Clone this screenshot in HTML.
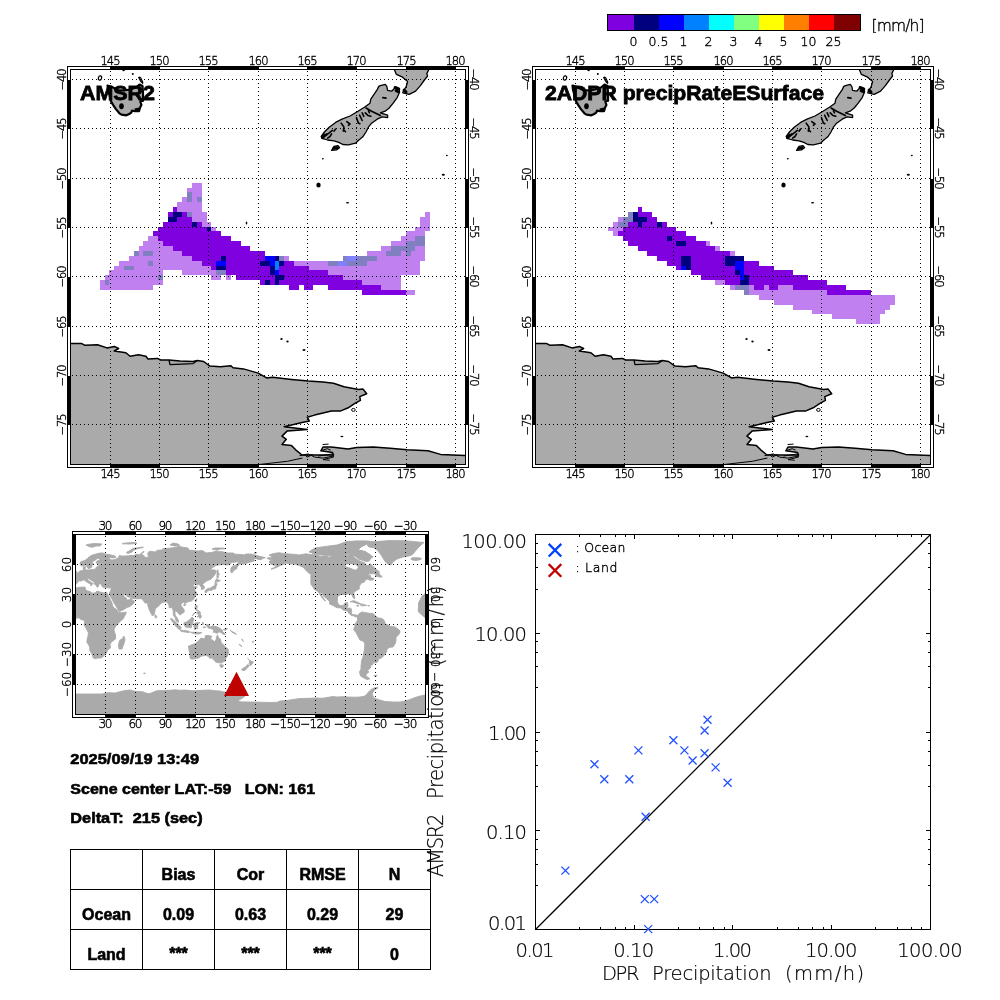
<!DOCTYPE html><html><head><meta charset="utf-8"><title>AMSR2 vs DPR precipitation</title><style>html,body{margin:0;padding:0;background:#fff}svg{display:block}</style></head><body>
<svg width="1000" height="1000" viewBox="0 0 1000 1000">
<rect width="1000" height="1000" fill="#fff"/><g opacity="0.999">
<g shape-rendering="crispEdges">
<rect x="608" y="15" width="26" height="15" fill="#8000e0"/>
<rect x="634" y="15" width="25" height="15" fill="#000080"/>
<rect x="659" y="15" width="25" height="15" fill="#0000ff"/>
<rect x="684" y="15" width="25" height="15" fill="#0080ff"/>
<rect x="709" y="15" width="25" height="15" fill="#00ffff"/>
<rect x="734" y="15" width="25" height="15" fill="#80ff80"/>
<rect x="759" y="15" width="25" height="15" fill="#ffff00"/>
<rect x="784" y="15" width="25" height="15" fill="#ff8000"/>
<rect x="809" y="15" width="25" height="15" fill="#ff0000"/>
<rect x="834" y="15" width="26" height="15" fill="#800000"/>
<rect x="607.5" y="14.5" width="253" height="16" fill="none" stroke="#000"/></g>
<g style="font-family:'DejaVu Sans','Liberation Sans',sans-serif;font-weight:200;stroke:#000;stroke-width:.38px" font-size="12.5" text-anchor="middle">
<text x="633.5" y="45.5">0</text>
<text x="658.5" y="45.5">0.5</text>
<text x="683.5" y="45.5">1</text>
<text x="708.5" y="45.5">2</text>
<text x="733.5" y="45.5">3</text>
<text x="758.5" y="45.5">4</text>
<text x="783.5" y="45.5">5</text>
<text x="808.5" y="45.5">10</text>
<text x="833.5" y="45.5">25</text>
</g>
<text x="871.5" y="30.5" style="font-family:'DejaVu Sans','Liberation Sans',sans-serif;font-weight:200;stroke:#000;stroke-width:.38px" font-size="15.5" textLength="53" lengthAdjust="spacing">[mm/h]</text>
<g transform="translate(0 0)">
<clipPath id="c0"><rect x="71" y="70" width="394" height="394"/></clipPath>
<g clip-path="url(#c0)">
<g shape-rendering="crispEdges"><path fill="#c080f0" d="M192 183h10v5h-10zM187 188h15v4h-15zM192 192h10v5h-10zM182 197h5v5h-5zM192 197h5v5h-5zM177 202h25v5h-25zM177 207h25v5h-25zM192 212h15v5h-15zM425 212h5v5h-5zM192 217h15v5h-15zM420 217h10v5h-10zM202 222h9v5h-9zM420 222h10v5h-10zM211 227h5v4h-5zM415 227h15v4h-15zM406 231h19v5h-19zM148 236h10v5h-10zM401 236h14v5h-14zM143 241h20v5h-20zM391 241h15v5h-15zM139 246h34v5h-34zM381 246h10v5h-10zM415 246h10v5h-10zM139 251h4v5h-4zM153 251h29v5h-29zM367 251h19v5h-19zM401 251h5v5h-5zM411 251h14v5h-14zM129 256h63v5h-63zM284 256h5v5h-5zM377 256h48v5h-48zM119 261h29v5h-29zM153 261h49v5h-49zM294 261h34v5h-34zM367 261h53v5h-53zM114 266h10v4h-10zM134 266h77v4h-77zM309 266h111v4h-111zM109 270h54v5h-54zM182 270h34v5h-34zM328 270h92v5h-92zM105 275h53v5h-53zM211 275h10v5h-10zM226 275h5v5h-5zM343 275h58v5h-58zM100 280h5v5h-5zM109 280h54v5h-54zM362 280h39v5h-39zM100 285h53v5h-53zM381 285h20v5h-20zM406 290h9v5h-9z"/><path fill="#8000e0" d="M173 207h4v5h-4zM168 212h5v5h-5zM182 212h5v5h-5zM177 217h15v5h-15zM163 222h29v5h-29zM197 222h5v5h-5zM158 227h49v4h-49zM153 231h68v5h-68zM158 236h73v5h-73zM163 241h78v5h-78zM173 246h77v5h-77zM182 251h83v5h-83zM192 256h29v5h-29zM226 256h39v5h-39zM202 261h14v5h-14zM226 261h34v5h-34zM284 261h10v5h-10zM211 266h5v4h-5zM226 266h44v4h-44zM279 266h30v4h-30zM226 270h44v5h-44zM279 270h49v5h-49zM236 275h39v5h-39zM284 275h59v5h-59zM260 280h5v5h-5zM270 280h5v5h-5zM279 280h83v5h-83zM289 285h10v5h-10zM304 285h9v5h-9zM328 285h53v5h-53zM362 290h44v5h-44z"/><path fill="#000080" d="M173 212h9v5h-9zM168 217h9v5h-9zM192 222h5v5h-5zM207 227h4v4h-4zM221 256h5v5h-5zM275 256h4v5h-4zM260 261h10v5h-10zM279 261h5v5h-5zM216 266h10v4h-10zM270 266h5v4h-5zM270 270h5v5h-5zM275 275h9v5h-9zM265 280h5v5h-5zM275 280h4v5h-4z"/><path fill="#8080c0" d="M187 192h5v5h-5zM187 197h5v5h-5zM197 197h5v5h-5zM187 212h5v5h-5zM415 236h10v5h-10zM406 241h19v5h-19zM391 246h24v5h-24zM134 251h5v5h-5zM143 251h10v5h-10zM386 251h15v5h-15zM406 251h5v5h-5zM279 256h5v5h-5zM343 256h4v5h-4zM357 256h20v5h-20zM148 261h5v5h-5zM328 261h10v5h-10zM347 261h20v5h-20zM124 266h10v4h-10zM216 270h10v5h-10zM158 275h5v5h-5zM105 280h4v5h-4z"/><path fill="#0000ff" d="M265 256h10v5h-10zM216 261h10v5h-10zM270 261h5v5h-5zM275 270h4v5h-4z"/><path fill="#0080ff" d="M275 261h4v5h-4zM275 266h4v4h-4z"/><path fill="#8080ff" d="M347 256h10v5h-10zM338 261h9v5h-9z"/></g>
<path d="M70.5 343.6L81.8 343.6L85.0 345.3L97.5 344.7L107.0 347.9L114.3 346.4L118.6 348.5L114.3 351.0L125.9 352.7L130.1 356.3L138.5 354.8L145.9 356.3L148.0 359.0L157.4 358.4L160.6 360.0L169.0 360.0L180.0 361.0L193.0 361.6L197.3 360.5L203.6 361.5L210.0 366.1L220.4 366.8L230.9 365.7L233.0 367.8L243.5 368.9L258.2 373.1L266.6 377.9L272.6 377.3L291.5 379.4L308.3 381.1L323.0 381.9L333.5 383.2L344.0 386.8L358.7 389.5L362.9 388.9L366.7 393.7L359.8 396.6L360.4 400.4L354.5 403.6L348.2 407.8L340.9 410.9L331.4 410.9L323.0 413.0L314.6 415.1L307.3 417.2L309.4 421.0L302.0 422.5L293.6 424.6L284.2 426.7L307.3 429.4L287.3 430.9L282.0 436.1L286.3 439.3L282.0 444.5L291.5 445.6L295.7 449.8L302.0 455.0L316.7 455.0L333.5 455.0L332.5 452.5L320.9 450.8L323.0 447.0L331.4 447.0L348.0 449.1L356.6 447.6L373.4 447.0L390.2 448.3L407.0 449.7L428.0 450.8L440.6 454.4L465.5 455.4L465.5 465.0L70.5 465.0Z" fill="#aaaaaa" stroke="none"/>
<path d="M70.5 343.6L81.8 343.6L85.0 345.3L97.5 344.7L107.0 347.9L114.3 346.4L118.6 348.5L114.3 351.0L125.9 352.7L130.1 356.3L138.5 354.8L145.9 356.3L148.0 359.0L157.4 358.4L160.6 360.0L169.0 360.0L180.0 361.0L193.0 361.6L197.3 360.5L203.6 361.5L210.0 366.1L220.4 366.8L230.9 365.7L233.0 367.8L243.5 368.9L258.2 373.1L266.6 377.9L272.6 377.3L291.5 379.4L308.3 381.1L323.0 381.9L333.5 383.2L344.0 386.8L358.7 389.5L362.9 388.9L366.7 393.7L359.8 396.6L360.4 400.4L354.5 403.6L348.2 407.8L340.9 410.9L331.4 410.9L323.0 413.0L314.6 415.1L307.3 417.2L309.4 421.0L302.0 422.5L293.6 424.6L284.2 426.7L307.3 429.4L287.3 430.9L282.0 436.1L286.3 439.3L282.0 444.5L291.5 445.6L295.7 449.8L302.0 455.0L316.7 455.0L333.5 455.0L332.5 452.5L320.9 450.8L323.0 447.0L331.4 447.0L348.0 449.1L356.6 447.6L373.4 447.0L390.2 448.3L407.0 449.7L428.0 450.8L440.6 454.4L465.5 455.4" fill="none" stroke="#000" stroke-width="1.5" stroke-linejoin="round"/>
<path d="M107.5 85.5L112.0 87.0L118.0 90.0L124.0 90.5L130.0 89.5L136.0 87.5L139.5 84.5L142.5 86.0L143.0 93.0L143.1 100.7L140.3 101.4L141.4 104.9L140.3 107.0L139.0 111.2L134.8 111.2L132.0 110.5L131.3 112.6L129.2 114.0L126.4 115.3L121.5 114.7L119.4 113.3L115.9 109.1L113.1 104.9L111.0 101.4L109.5 95.0L108.0 90.0Z" fill="#aaaaaa" stroke="#000" stroke-width="2.2" stroke-linejoin="round"/>
<path d="M380.4 85.6L385.2 84.3L386.8 86.4L387.6 90.4L391.6 91.2L394.8 88.0L398.8 88.8L399.6 92.0L397.2 97.6L393.2 103.2L389.2 108.0L385.2 111.2L380.4 112.8L382.8 113.6L387.6 115.2L387.6 117.6L382.0 116.8L377.2 119.2L371.6 123.2L368.4 127.2L366.0 132.0L362.8 136.8L358.0 140.8L355.6 143.2L348.4 144.8L342.8 144.5L338.8 142.4L334.0 140.8L327.6 140.0L322.0 138.4L321.2 136.5L324.4 132.0L329.2 127.2L335.6 122.4L342.0 119.2L350.0 116.0L358.0 111.2L364.4 107.2L370.0 103.2L370.8 99.2L374.0 94.4L377.2 89.6L378.8 86.4Z" fill="#aaaaaa" stroke="#000" stroke-width="1.3" stroke-linejoin="round"/>
<path d="M394.0 68.8L396.4 74.4L402.0 76.8L407.6 81.6L406.0 87.2L403.6 90.4L402.8 92.8L409.2 94.4L415.6 91.2L420.4 85.6L424.4 80.0L427.6 76.0L426.8 73.6L429.2 68.8Z" fill="#aaaaaa" stroke="#000" stroke-width="1.3" stroke-linejoin="round"/>
<path d="M331.6 150.4L334.0 146.4L338.0 145.6L339.6 147.7L336.4 149.9Z" fill="#aaaaaa" stroke="#000" stroke-width="1.3" stroke-linejoin="round"/>
<ellipse cx="132.8" cy="74" rx="1" ry="1" fill="#000"/>
<ellipse cx="123.6" cy="70.4" rx="1.2" ry="0.8" fill="#000"/>
<ellipse cx="322.8" cy="158.7" rx="1" ry="0.8" fill="#000"/>
<ellipse cx="318.5" cy="185" rx="2.2" ry="2.5" fill="#000"/>
<ellipse cx="347.6" cy="202.7" rx="1.6" ry="0.8" fill="#000"/>
<ellipse cx="446.8" cy="155.5" rx="1" ry="0.8" fill="#000"/>
<ellipse cx="443.3" cy="174.7" rx="1.6" ry="1" fill="#000"/>
<ellipse cx="246.5" cy="223" rx="0.8" ry="1.5" fill="#000"/>
<ellipse cx="281.5" cy="339" rx="1.2" ry="1" fill="#000"/>
<ellipse cx="287.5" cy="341.5" rx="1.2" ry="1" fill="#000"/>
<ellipse cx="304" cy="350" rx="1.5" ry="1" fill="#000"/>
<ellipse cx="341.9" cy="436.5" rx="1.5" ry="0.8" fill="#000"/>
<path d="M326.0 135.5L329.2 132.8L332.4 130.4M327.6 138.1L330.0 136.5L331.6 133.9M324.4 136.5L326.8 133.9M334.0 131.2L335.6 129.1M341.2 123.2L343.9 126.9L343.3 131.2M346.8 121.6L350.0 124.0L348.4 125.3M344.4 130.4L345.5 131.7M356.4 117.6L358.0 122.1M359.6 115.2L362.2 120.5M362.2 112.8L363.8 116.3M358.0 122.7L359.9 123.7M366.0 108.0L371.6 111.2L380.4 115.5M365.2 112.8L367.9 115.4L370.8 116.3M368.4 110.9L369.5 112.8M382.8 97.6L386.0 98.1" fill="none" stroke="#000" stroke-width="1.6" stroke-linecap="round" stroke-linejoin="round"/><path d="M395.1 87.5L398.8 88.8L398.3 91.7L396.1 90.7M404.1 90.1L406.0 92.0M322.5 137.6L324.7 135.2M334.0 148.3L337.2 147.7" fill="none" stroke="#000" stroke-width="3" stroke-linecap="round" stroke-linejoin="round"/><ellipse cx="353.4" cy="409.9" rx="1.8" ry="1.5" fill="#fff" stroke="#000" stroke-width="1"/><ellipse cx="121.5" cy="106.3" rx="2.3" ry="3" fill="#000"/><path d="M134.5 108.5L139 107.5L139.5 111L135 111.5Z" fill="#000"/><ellipse cx="100" cy="78" rx="1.6" ry="2.2" fill="#fff" stroke="#000" stroke-width="1.2" transform="rotate(15 100 78)"/><path d="M138.8 77.5Q140.5 76.5 141.5 79.5Q143 82 142.6 83.2Q141 82 140 80Z" fill="#fff" stroke="#000" stroke-width="1.3"/><path d="M299.9 455.6L308.3 453.9L314.6 457.1L323.0 458.1L333.5 456.0M318.8 456.0L332.4 453.9L333.5 457.1L323.0 459.6L329.3 460.2M305.1 455.0L307.2 457.1L312.5 454.6M320.9 450.8L327.2 448.7L330.3 450.0M323.0 444.5L328.2 444.1" fill="none" stroke="#000" stroke-width="1" stroke-linecap="round" stroke-linejoin="round"/><path d="M260.0 464.4L287.3 461.3L302.0 458.1" fill="none" stroke="#000" stroke-width="1" stroke-linecap="round" stroke-linejoin="round"/><path d="M169 360L170 364.7L193.1 363.6L197.3 360.5" fill="none" stroke="#000" stroke-width="1.3" stroke-linejoin="round"/>
</g>
<g stroke="#000" stroke-width="1" stroke-dasharray="1 3" shape-rendering="crispEdges" fill="none">
<path d="M110.5 71V464"/>
<path d="M159.5 71V464"/>
<path d="M208.5 71V464"/>
<path d="M258.5 71V464"/>
<path d="M307.5 71V464"/>
<path d="M356.5 71V464"/>
<path d="M406.5 71V464"/>
<path d="M455.5 71V464"/>
<path d="M72 79.5H465"/>
<path d="M72 128.5H465"/>
<path d="M72 178.5H465"/>
<path d="M72 227.5H465"/>
<path d="M72 276.5H465"/>
<path d="M72 326.5H465"/>
<path d="M72 375.5H465"/>
<path d="M72 424.5H465"/>
</g>
<g shape-rendering="crispEdges">
<rect x="67.5" y="66.5" width="401" height="401" fill="none" stroke="#000"/>
<rect x="70.5" y="69.5" width="395" height="395" fill="none" stroke="#000"/>
<rect x="110" y="66" width="50" height="4"/><rect x="110" y="464" width="50" height="4"/>
<rect x="208" y="66" width="51" height="4"/><rect x="208" y="464" width="51" height="4"/>
<rect x="307" y="66" width="50" height="4"/><rect x="307" y="464" width="50" height="4"/>
<rect x="406" y="66" width="50" height="4"/><rect x="406" y="464" width="50" height="4"/>
<rect x="67" y="80" width="4" height="49"/><rect x="465" y="80" width="4" height="49"/>
<rect x="67" y="179" width="4" height="49"/><rect x="465" y="179" width="4" height="49"/>
<rect x="67" y="277" width="4" height="50"/><rect x="465" y="277" width="4" height="50"/>
<rect x="67" y="376" width="4" height="49"/><rect x="465" y="376" width="4" height="49"/>
</g>
<g style="font-family:'DejaVu Sans','Liberation Sans',sans-serif;font-weight:200;stroke:#000;stroke-width:.38px" font-size="11.5" text-anchor="middle" fill="#000">
<text x="110.5" y="64.5" textLength="20" lengthAdjust="spacing">145</text><text x="110.5" y="478" textLength="20" lengthAdjust="spacing">145</text>
<text x="159.5" y="64.5" textLength="20" lengthAdjust="spacing">150</text><text x="159.5" y="478" textLength="20" lengthAdjust="spacing">150</text>
<text x="208.5" y="64.5" textLength="20" lengthAdjust="spacing">155</text><text x="208.5" y="478" textLength="20" lengthAdjust="spacing">155</text>
<text x="258.5" y="64.5" textLength="20" lengthAdjust="spacing">160</text><text x="258.5" y="478" textLength="20" lengthAdjust="spacing">160</text>
<text x="307.5" y="64.5" textLength="20" lengthAdjust="spacing">165</text><text x="307.5" y="478" textLength="20" lengthAdjust="spacing">165</text>
<text x="356.5" y="64.5" textLength="20" lengthAdjust="spacing">170</text><text x="356.5" y="478" textLength="20" lengthAdjust="spacing">170</text>
<text x="406.5" y="64.5" textLength="20" lengthAdjust="spacing">175</text><text x="406.5" y="478" textLength="20" lengthAdjust="spacing">175</text>
<text x="455.5" y="64.5" textLength="20" lengthAdjust="spacing">180</text><text x="455.5" y="478" textLength="20" lengthAdjust="spacing">180</text>
<text transform="translate(65.5 79.5) rotate(-90)" textLength="22" lengthAdjust="spacing">−40</text>
<text transform="translate(469.8 79.5) rotate(90)" textLength="22" lengthAdjust="spacing">−40</text>
<text transform="translate(65.5 128.5) rotate(-90)" textLength="22" lengthAdjust="spacing">−45</text>
<text transform="translate(469.8 128.5) rotate(90)" textLength="22" lengthAdjust="spacing">−45</text>
<text transform="translate(65.5 178.5) rotate(-90)" textLength="22" lengthAdjust="spacing">−50</text>
<text transform="translate(469.8 178.5) rotate(90)" textLength="22" lengthAdjust="spacing">−50</text>
<text transform="translate(65.5 227.5) rotate(-90)" textLength="22" lengthAdjust="spacing">−55</text>
<text transform="translate(469.8 227.5) rotate(90)" textLength="22" lengthAdjust="spacing">−55</text>
<text transform="translate(65.5 276.5) rotate(-90)" textLength="22" lengthAdjust="spacing">−60</text>
<text transform="translate(469.8 276.5) rotate(90)" textLength="22" lengthAdjust="spacing">−60</text>
<text transform="translate(65.5 326.5) rotate(-90)" textLength="22" lengthAdjust="spacing">−65</text>
<text transform="translate(469.8 326.5) rotate(90)" textLength="22" lengthAdjust="spacing">−65</text>
<text transform="translate(65.5 375.5) rotate(-90)" textLength="22" lengthAdjust="spacing">−70</text>
<text transform="translate(469.8 375.5) rotate(90)" textLength="22" lengthAdjust="spacing">−70</text>
<text transform="translate(65.5 424.5) rotate(-90)" textLength="22" lengthAdjust="spacing">−75</text>
<text transform="translate(469.8 424.5) rotate(90)" textLength="22" lengthAdjust="spacing">−75</text>
</g>
<text x="80" y="100" style="font-family:'Liberation Sans',sans-serif;font-weight:bold;stroke:#000;stroke-width:.8px" font-size="20.5" textLength="75" lengthAdjust="spacingAndGlyphs">AMSR2</text>
</g>
<g transform="translate(465 0)">
<clipPath id="c465"><rect x="71" y="70" width="394" height="394"/></clipPath>
<g clip-path="url(#c465)">
<g shape-rendering="crispEdges"><path fill="#c080f0" d="M153 217h5v5h-5zM148 222h5v5h-5zM143 227h15v4h-15zM148 231h5v5h-5zM241 241h4v5h-4zM250 246h5v5h-5zM265 251h5v5h-5zM250 280h10v5h-10zM265 285h5v5h-5zM284 285h5v5h-5zM299 285h5v5h-5zM313 285h15v5h-15zM284 290h78v5h-78zM294 295h136v5h-136zM309 300h121v5h-121zM328 305h97v5h-97zM347 310h73v4h-73zM367 314h48v5h-48zM391 319h24v5h-24z"/><path fill="#8000e0" d="M173 207h4v5h-4zM173 212h14v5h-14zM182 217h10v5h-10zM163 222h10v5h-10zM177 222h15v5h-15zM197 222h5v5h-5zM158 227h53v4h-53zM153 231h68v5h-68zM158 236h44v5h-44zM207 236h24v5h-24zM163 241h48v5h-48zM221 241h20v5h-20zM173 246h77v5h-77zM182 251h83v5h-83zM192 256h24v5h-24zM226 256h34v5h-34zM202 261h14v5h-14zM226 261h34v5h-34zM279 261h15v5h-15zM211 266h5v4h-5zM226 266h44v4h-44zM279 266h30v4h-30zM226 270h44v5h-44zM279 270h49v5h-49zM236 275h39v5h-39zM284 275h59v5h-59zM260 280h15v5h-15zM284 280h78v5h-78zM289 285h10v5h-10zM304 285h9v5h-9zM328 285h53v5h-53zM362 290h44v5h-44z"/><path fill="#000080" d="M168 212h5v5h-5zM168 217h14v5h-14zM173 222h4v5h-4zM192 222h5v5h-5zM202 236h5v5h-5zM211 241h10v5h-10zM216 256h10v5h-10zM260 256h19v5h-19zM216 261h10v5h-10zM260 261h10v5h-10zM221 266h5v4h-5zM270 270h5v5h-5zM279 275h5v5h-5zM275 280h9v5h-9z"/><path fill="#8080c0" d="M163 212h5v5h-5zM158 217h10v5h-10zM153 222h10v5h-10zM270 285h14v5h-14zM279 290h5v5h-5z"/><path fill="#0000ff" d="M270 261h9v5h-9zM216 266h5v4h-5zM270 266h9v4h-9zM275 270h4v5h-4zM275 275h4v5h-4z"/></g>
<path d="M70.5 343.6L81.8 343.6L85.0 345.3L97.5 344.7L107.0 347.9L114.3 346.4L118.6 348.5L114.3 351.0L125.9 352.7L130.1 356.3L138.5 354.8L145.9 356.3L148.0 359.0L157.4 358.4L160.6 360.0L169.0 360.0L180.0 361.0L193.0 361.6L197.3 360.5L203.6 361.5L210.0 366.1L220.4 366.8L230.9 365.7L233.0 367.8L243.5 368.9L258.2 373.1L266.6 377.9L272.6 377.3L291.5 379.4L308.3 381.1L323.0 381.9L333.5 383.2L344.0 386.8L358.7 389.5L362.9 388.9L366.7 393.7L359.8 396.6L360.4 400.4L354.5 403.6L348.2 407.8L340.9 410.9L331.4 410.9L323.0 413.0L314.6 415.1L307.3 417.2L309.4 421.0L302.0 422.5L293.6 424.6L284.2 426.7L307.3 429.4L287.3 430.9L282.0 436.1L286.3 439.3L282.0 444.5L291.5 445.6L295.7 449.8L302.0 455.0L316.7 455.0L333.5 455.0L332.5 452.5L320.9 450.8L323.0 447.0L331.4 447.0L348.0 449.1L356.6 447.6L373.4 447.0L390.2 448.3L407.0 449.7L428.0 450.8L440.6 454.4L465.5 455.4L465.5 465.0L70.5 465.0Z" fill="#aaaaaa" stroke="none"/>
<path d="M70.5 343.6L81.8 343.6L85.0 345.3L97.5 344.7L107.0 347.9L114.3 346.4L118.6 348.5L114.3 351.0L125.9 352.7L130.1 356.3L138.5 354.8L145.9 356.3L148.0 359.0L157.4 358.4L160.6 360.0L169.0 360.0L180.0 361.0L193.0 361.6L197.3 360.5L203.6 361.5L210.0 366.1L220.4 366.8L230.9 365.7L233.0 367.8L243.5 368.9L258.2 373.1L266.6 377.9L272.6 377.3L291.5 379.4L308.3 381.1L323.0 381.9L333.5 383.2L344.0 386.8L358.7 389.5L362.9 388.9L366.7 393.7L359.8 396.6L360.4 400.4L354.5 403.6L348.2 407.8L340.9 410.9L331.4 410.9L323.0 413.0L314.6 415.1L307.3 417.2L309.4 421.0L302.0 422.5L293.6 424.6L284.2 426.7L307.3 429.4L287.3 430.9L282.0 436.1L286.3 439.3L282.0 444.5L291.5 445.6L295.7 449.8L302.0 455.0L316.7 455.0L333.5 455.0L332.5 452.5L320.9 450.8L323.0 447.0L331.4 447.0L348.0 449.1L356.6 447.6L373.4 447.0L390.2 448.3L407.0 449.7L428.0 450.8L440.6 454.4L465.5 455.4" fill="none" stroke="#000" stroke-width="1.5" stroke-linejoin="round"/>
<path d="M107.5 85.5L112.0 87.0L118.0 90.0L124.0 90.5L130.0 89.5L136.0 87.5L139.5 84.5L142.5 86.0L143.0 93.0L143.1 100.7L140.3 101.4L141.4 104.9L140.3 107.0L139.0 111.2L134.8 111.2L132.0 110.5L131.3 112.6L129.2 114.0L126.4 115.3L121.5 114.7L119.4 113.3L115.9 109.1L113.1 104.9L111.0 101.4L109.5 95.0L108.0 90.0Z" fill="#aaaaaa" stroke="#000" stroke-width="2.2" stroke-linejoin="round"/>
<path d="M380.4 85.6L385.2 84.3L386.8 86.4L387.6 90.4L391.6 91.2L394.8 88.0L398.8 88.8L399.6 92.0L397.2 97.6L393.2 103.2L389.2 108.0L385.2 111.2L380.4 112.8L382.8 113.6L387.6 115.2L387.6 117.6L382.0 116.8L377.2 119.2L371.6 123.2L368.4 127.2L366.0 132.0L362.8 136.8L358.0 140.8L355.6 143.2L348.4 144.8L342.8 144.5L338.8 142.4L334.0 140.8L327.6 140.0L322.0 138.4L321.2 136.5L324.4 132.0L329.2 127.2L335.6 122.4L342.0 119.2L350.0 116.0L358.0 111.2L364.4 107.2L370.0 103.2L370.8 99.2L374.0 94.4L377.2 89.6L378.8 86.4Z" fill="#aaaaaa" stroke="#000" stroke-width="1.3" stroke-linejoin="round"/>
<path d="M394.0 68.8L396.4 74.4L402.0 76.8L407.6 81.6L406.0 87.2L403.6 90.4L402.8 92.8L409.2 94.4L415.6 91.2L420.4 85.6L424.4 80.0L427.6 76.0L426.8 73.6L429.2 68.8Z" fill="#aaaaaa" stroke="#000" stroke-width="1.3" stroke-linejoin="round"/>
<path d="M331.6 150.4L334.0 146.4L338.0 145.6L339.6 147.7L336.4 149.9Z" fill="#aaaaaa" stroke="#000" stroke-width="1.3" stroke-linejoin="round"/>
<ellipse cx="132.8" cy="74" rx="1" ry="1" fill="#000"/>
<ellipse cx="123.6" cy="70.4" rx="1.2" ry="0.8" fill="#000"/>
<ellipse cx="322.8" cy="158.7" rx="1" ry="0.8" fill="#000"/>
<ellipse cx="318.5" cy="185" rx="2.2" ry="2.5" fill="#000"/>
<ellipse cx="347.6" cy="202.7" rx="1.6" ry="0.8" fill="#000"/>
<ellipse cx="446.8" cy="155.5" rx="1" ry="0.8" fill="#000"/>
<ellipse cx="443.3" cy="174.7" rx="1.6" ry="1" fill="#000"/>
<ellipse cx="246.5" cy="223" rx="0.8" ry="1.5" fill="#000"/>
<ellipse cx="281.5" cy="339" rx="1.2" ry="1" fill="#000"/>
<ellipse cx="287.5" cy="341.5" rx="1.2" ry="1" fill="#000"/>
<ellipse cx="304" cy="350" rx="1.5" ry="1" fill="#000"/>
<ellipse cx="341.9" cy="436.5" rx="1.5" ry="0.8" fill="#000"/>
<path d="M326.0 135.5L329.2 132.8L332.4 130.4M327.6 138.1L330.0 136.5L331.6 133.9M324.4 136.5L326.8 133.9M334.0 131.2L335.6 129.1M341.2 123.2L343.9 126.9L343.3 131.2M346.8 121.6L350.0 124.0L348.4 125.3M344.4 130.4L345.5 131.7M356.4 117.6L358.0 122.1M359.6 115.2L362.2 120.5M362.2 112.8L363.8 116.3M358.0 122.7L359.9 123.7M366.0 108.0L371.6 111.2L380.4 115.5M365.2 112.8L367.9 115.4L370.8 116.3M368.4 110.9L369.5 112.8M382.8 97.6L386.0 98.1" fill="none" stroke="#000" stroke-width="1.6" stroke-linecap="round" stroke-linejoin="round"/><path d="M395.1 87.5L398.8 88.8L398.3 91.7L396.1 90.7M404.1 90.1L406.0 92.0M322.5 137.6L324.7 135.2M334.0 148.3L337.2 147.7" fill="none" stroke="#000" stroke-width="3" stroke-linecap="round" stroke-linejoin="round"/><ellipse cx="353.4" cy="409.9" rx="1.8" ry="1.5" fill="#fff" stroke="#000" stroke-width="1"/><ellipse cx="121.5" cy="106.3" rx="2.3" ry="3" fill="#000"/><path d="M134.5 108.5L139 107.5L139.5 111L135 111.5Z" fill="#000"/><ellipse cx="100" cy="78" rx="1.6" ry="2.2" fill="#fff" stroke="#000" stroke-width="1.2" transform="rotate(15 100 78)"/><path d="M138.8 77.5Q140.5 76.5 141.5 79.5Q143 82 142.6 83.2Q141 82 140 80Z" fill="#fff" stroke="#000" stroke-width="1.3"/><path d="M299.9 455.6L308.3 453.9L314.6 457.1L323.0 458.1L333.5 456.0M318.8 456.0L332.4 453.9L333.5 457.1L323.0 459.6L329.3 460.2M305.1 455.0L307.2 457.1L312.5 454.6M320.9 450.8L327.2 448.7L330.3 450.0M323.0 444.5L328.2 444.1" fill="none" stroke="#000" stroke-width="1" stroke-linecap="round" stroke-linejoin="round"/><path d="M260.0 464.4L287.3 461.3L302.0 458.1" fill="none" stroke="#000" stroke-width="1" stroke-linecap="round" stroke-linejoin="round"/><path d="M169 360L170 364.7L193.1 363.6L197.3 360.5" fill="none" stroke="#000" stroke-width="1.3" stroke-linejoin="round"/>
</g>
<g stroke="#000" stroke-width="1" stroke-dasharray="1 3" shape-rendering="crispEdges" fill="none">
<path d="M110.5 71V464"/>
<path d="M159.5 71V464"/>
<path d="M208.5 71V464"/>
<path d="M258.5 71V464"/>
<path d="M307.5 71V464"/>
<path d="M356.5 71V464"/>
<path d="M406.5 71V464"/>
<path d="M455.5 71V464"/>
<path d="M72 79.5H465"/>
<path d="M72 128.5H465"/>
<path d="M72 178.5H465"/>
<path d="M72 227.5H465"/>
<path d="M72 276.5H465"/>
<path d="M72 326.5H465"/>
<path d="M72 375.5H465"/>
<path d="M72 424.5H465"/>
</g>
<g shape-rendering="crispEdges">
<rect x="67.5" y="66.5" width="401" height="401" fill="none" stroke="#000"/>
<rect x="70.5" y="69.5" width="395" height="395" fill="none" stroke="#000"/>
<rect x="110" y="66" width="50" height="4"/><rect x="110" y="464" width="50" height="4"/>
<rect x="208" y="66" width="51" height="4"/><rect x="208" y="464" width="51" height="4"/>
<rect x="307" y="66" width="50" height="4"/><rect x="307" y="464" width="50" height="4"/>
<rect x="406" y="66" width="50" height="4"/><rect x="406" y="464" width="50" height="4"/>
<rect x="67" y="80" width="4" height="49"/><rect x="465" y="80" width="4" height="49"/>
<rect x="67" y="179" width="4" height="49"/><rect x="465" y="179" width="4" height="49"/>
<rect x="67" y="277" width="4" height="50"/><rect x="465" y="277" width="4" height="50"/>
<rect x="67" y="376" width="4" height="49"/><rect x="465" y="376" width="4" height="49"/>
</g>
<g style="font-family:'DejaVu Sans','Liberation Sans',sans-serif;font-weight:200;stroke:#000;stroke-width:.38px" font-size="11.5" text-anchor="middle" fill="#000">
<text x="110.5" y="64.5" textLength="20" lengthAdjust="spacing">145</text><text x="110.5" y="478" textLength="20" lengthAdjust="spacing">145</text>
<text x="159.5" y="64.5" textLength="20" lengthAdjust="spacing">150</text><text x="159.5" y="478" textLength="20" lengthAdjust="spacing">150</text>
<text x="208.5" y="64.5" textLength="20" lengthAdjust="spacing">155</text><text x="208.5" y="478" textLength="20" lengthAdjust="spacing">155</text>
<text x="258.5" y="64.5" textLength="20" lengthAdjust="spacing">160</text><text x="258.5" y="478" textLength="20" lengthAdjust="spacing">160</text>
<text x="307.5" y="64.5" textLength="20" lengthAdjust="spacing">165</text><text x="307.5" y="478" textLength="20" lengthAdjust="spacing">165</text>
<text x="356.5" y="64.5" textLength="20" lengthAdjust="spacing">170</text><text x="356.5" y="478" textLength="20" lengthAdjust="spacing">170</text>
<text x="406.5" y="64.5" textLength="20" lengthAdjust="spacing">175</text><text x="406.5" y="478" textLength="20" lengthAdjust="spacing">175</text>
<text x="455.5" y="64.5" textLength="20" lengthAdjust="spacing">180</text><text x="455.5" y="478" textLength="20" lengthAdjust="spacing">180</text>
<text transform="translate(65.5 79.5) rotate(-90)" textLength="22" lengthAdjust="spacing">−40</text>
<text transform="translate(469.8 79.5) rotate(90)" textLength="22" lengthAdjust="spacing">−40</text>
<text transform="translate(65.5 128.5) rotate(-90)" textLength="22" lengthAdjust="spacing">−45</text>
<text transform="translate(469.8 128.5) rotate(90)" textLength="22" lengthAdjust="spacing">−45</text>
<text transform="translate(65.5 178.5) rotate(-90)" textLength="22" lengthAdjust="spacing">−50</text>
<text transform="translate(469.8 178.5) rotate(90)" textLength="22" lengthAdjust="spacing">−50</text>
<text transform="translate(65.5 227.5) rotate(-90)" textLength="22" lengthAdjust="spacing">−55</text>
<text transform="translate(469.8 227.5) rotate(90)" textLength="22" lengthAdjust="spacing">−55</text>
<text transform="translate(65.5 276.5) rotate(-90)" textLength="22" lengthAdjust="spacing">−60</text>
<text transform="translate(469.8 276.5) rotate(90)" textLength="22" lengthAdjust="spacing">−60</text>
<text transform="translate(65.5 326.5) rotate(-90)" textLength="22" lengthAdjust="spacing">−65</text>
<text transform="translate(469.8 326.5) rotate(90)" textLength="22" lengthAdjust="spacing">−65</text>
<text transform="translate(65.5 375.5) rotate(-90)" textLength="22" lengthAdjust="spacing">−70</text>
<text transform="translate(469.8 375.5) rotate(90)" textLength="22" lengthAdjust="spacing">−70</text>
<text transform="translate(65.5 424.5) rotate(-90)" textLength="22" lengthAdjust="spacing">−75</text>
<text transform="translate(469.8 424.5) rotate(90)" textLength="22" lengthAdjust="spacing">−75</text>
</g>
<text x="80" y="100" style="font-family:'Liberation Sans',sans-serif;font-weight:bold;stroke:#000;stroke-width:.8px" font-size="20.5" textLength="279" lengthAdjust="spacingAndGlyphs">2ADPR precipRateESurface</text>
</g>
<clipPath id="cw"><rect x="76" y="535" width="349" height="179"/></clipPath>
<g clip-path="url(#cw)" fill="#aaaaaa" stroke="#aaaaaa" stroke-width="0.9" stroke-linejoin="round">
<path d="M75.0 618.5L79.0 617.7L81.0 619.7L84.0 620.0L84.5 623.0L84.0 625.0L86.0 628.0L87.0 630.0L88.5 633.0L88.0 636.0L87.0 640.0L86.8 642.0L89.5 646.5L90.0 651.0L92.0 654.0L93.3 658.0L95.0 658.8L98.0 658.0L101.0 658.0L103.0 656.8L106.0 653.5L107.8 650.0L110.5 648.0L110.0 644.0L112.0 641.5L115.5 639.0L115.5 635.0L114.2 631.0L114.0 629.0L116.0 626.0L119.0 622.5L123.0 619.0L126.0 613.5L126.2 612.0L122.0 612.8L118.5 612.5L118.0 611.5L116.0 609.0L114.0 608.0L112.5 605.5L112.0 603.0L110.5 600.0L109.0 597.0L107.5 594.0L107.0 592.7L104.0 593.0L100.0 592.0L97.0 591.0L95.0 593.0L92.0 593.2L90.0 591.5L86.0 590.5L85.0 587.0L80.0 587.2L75.0 588.2L73.0 588.8L73.0 619.0Z" />
<path d="M435.0 588.2L429.5 588.1L426.0 591.0L425.0 594.0L422.0 596.0L418.5 603.0L418.5 609.0L418.0 609.3L418.5 612.0L422.0 615.0L427.0 619.5L430.0 619.0L435.0 618.5Z" />
<path d="M73.0 585.3L75.0 585.3L78.0 582.2L78.2 580.8L81.0 581.0L84.0 579.7L85.5 581.0L87.5 582.5L90.5 584.0L91.0 586.0L92.0 585.0L91.5 584.0L93.5 583.8L91.0 582.2L88.5 580.5L87.3 578.7L88.7 578.4L90.0 579.5L92.5 581.0L94.5 582.5L94.5 584.0L96.0 585.5L97.5 587.5L98.5 586.0L99.0 584.0L101.0 583.5L101.5 585.5L102.5 587.0L104.0 587.5L106.0 587.2L108.0 588.0L111.0 587.5L111.0 590.0L110.0 592.0L109.3 592.7L110.0 594.5L110.0 596.0L112.0 599.0L114.0 603.0L116.0 606.0L117.7 609.0L118.5 611.3L120.0 611.2L123.0 610.0L127.0 607.5L130.0 606.5L133.5 603.5L134.8 601.5L132.0 600.0L131.3 597.5L129.5 599.8L126.5 600.0L126.5 598.0L125.0 597.5L123.0 594.5L125.0 594.0L126.5 596.0L129.0 597.3L131.5 597.0L132.5 598.5L136.5 598.8L141.5 598.7L143.0 600.3L145.0 603.0L147.7 603.0L147.8 605.5L149.0 609.0L150.5 612.5L152.5 616.0L154.0 614.5L155.0 611.0L155.3 608.5L157.3 607.3L160.0 604.5L162.0 602.5L165.0 602.0L166.8 601.7L169.0 605.0L169.3 608.0L172.0 607.2L173.3 611.0L173.3 615.0L175.0 617.5L176.3 621.2L178.5 622.6L178.3 620.0L177.0 617.7L175.0 615.0L175.0 610.7L177.5 612.0L180.0 615.2L181.8 613.6L184.2 612.2L184.0 609.5L182.0 607.0L180.7 605.0L182.0 603.0L183.5 602.3L185.0 603.7L185.5 602.8L188.5 601.7L191.5 601.0L194.0 598.7L195.0 596.5L196.8 594.0L196.0 592.0L194.3 589.0L197.5 587.0L194.0 586.5L192.8 585.0L196.0 583.2L196.7 585.0L199.5 584.0L200.0 586.0L201.5 587.0L201.3 589.5L204.0 588.8L204.5 587.0L202.5 584.3L204.7 582.5L207.0 580.8L210.5 579.5L213.5 576.5L215.5 573.5L216.3 571.0L214.0 569.8L212.0 570.0L210.3 569.2L213.5 567.0L216.0 565.4L220.5 564.6L224.0 564.5L227.0 565.0L230.0 564.5L231.5 562.3L235.0 562.2L238.5 561.5L238.0 563.5L235.0 565.5L232.0 566.5L230.7 569.0L231.0 572.5L231.8 573.0L233.3 571.0L235.0 569.5L237.0 568.5L237.0 566.5L238.5 565.5L239.0 564.0L241.5 564.0L245.5 563.8L247.5 562.8L252.5 561.5L254.5 560.8L253.5 559.5L256.0 558.5L257.5 559.3L261.5 559.7L262.5 558.5L265.3 557.8L263.0 557.0L260.0 556.5L255.0 555.0L251.0 554.0L245.5 554.0L245.0 555.0L240.0 554.4L235.5 554.3L233.0 553.0L227.0 553.0L222.0 551.7L215.0 551.5L211.0 552.5L206.0 553.0L204.0 551.5L202.0 550.5L198.0 551.0L193.0 550.5L188.5 550.0L188.0 548.0L183.0 547.3L179.5 546.3L175.0 547.5L171.0 548.0L163.0 548.7L161.5 550.0L157.0 550.3L155.5 552.0L153.0 551.7L150.0 551.2L148.0 552.5L147.8 555.0L148.7 556.0L147.0 557.5L144.5 557.2L144.0 555.5L142.0 555.0L141.8 553.5L143.5 552.5L144.0 551.2L141.5 553.0L139.5 554.7L135.5 554.2L135.0 555.5L130.0 555.5L128.5 555.7L125.0 556.0L121.5 556.0L119.3 555.5L118.5 557.7L115.5 559.3L113.0 560.0L110.0 559.7L109.5 558.2L108.5 557.3L113.5 558.0L116.0 557.2L115.0 556.0L110.0 554.8L106.0 554.2L103.0 553.0L100.0 553.0L96.0 554.0L92.5 555.0L89.5 556.5L87.0 559.0L84.5 560.5L80.5 562.0L80.0 564.0L81.0 565.7L83.0 566.0L85.5 564.8L86.3 565.5L87.5 567.7L88.0 568.6L89.3 568.5L91.5 567.5L92.0 565.5L93.5 564.0L92.3 562.5L93.0 561.2L96.3 559.5L97.5 558.2L100.3 558.7L99.5 560.0L96.3 561.5L96.3 563.0L98.0 564.0L101.5 563.6L104.5 564.0L103.0 564.5L98.5 564.8L99.2 566.5L97.0 566.5L96.0 568.0L95.0 569.5L93.5 569.3L89.2 570.0L86.0 570.0L85.0 569.2L85.5 566.5L83.2 567.0L83.3 569.0L83.7 570.0L82.0 570.5L79.7 571.0L78.5 572.6L76.7 573.0L75.0 574.5L73.0 575.5Z" />
<path d="M73.0 573.3L76.3 572.8L76.7 571.3L75.3 571.0L74.8 569.5L73.0 568.0Z" />
<path d="M119.0 649.0L122.0 649.0L124.5 642.0L125.0 639.5L124.0 636.0L122.5 638.5L119.5 640.5L118.5 645.0Z" />
<path d="M155.0 614.5L156.8 616.5L156.0 618.0L155.0 617.5Z" />
<path d="M170.3 618.5L172.5 619.0L175.5 622.0L178.5 625.0L181.0 627.0L180.8 629.8L179.0 629.5L176.0 626.5L173.5 623.0L171.5 620.5Z" />
<path d="M180.5 630.5L183.5 630.5L186.0 630.7L189.5 631.5L189.3 632.6L185.0 632.0L181.0 631.4Z" />
<path d="M190.5 632.2L194.0 632.3L198.0 632.3L200.0 632.5L202.0 632.4L199.0 634.0L195.0 633.8L192.0 633.0Z" />
<path d="M184.0 622.5L186.0 622.3L188.0 620.8L190.5 619.0L192.0 617.0L194.0 619.0L192.8 622.0L193.0 623.2L191.5 626.0L191.0 628.0L188.5 627.4L185.5 627.0L184.0 624.5Z" />
<path d="M194.5 623.5L196.0 622.8L199.5 622.8L200.0 622.4L198.0 623.7L195.5 624.0L196.5 625.0L198.3 625.0L197.0 626.0L197.8 628.5L196.5 628.6L196.0 626.7L195.3 627.0L195.4 629.5L194.5 629.5L194.3 627.5L193.8 626.7Z" />
<path d="M202.5 622.0L203.5 623.0L203.0 624.8L202.5 623.5Z" />
<path d="M203.0 627.0L205.8 627.0L205.0 627.7L203.0 627.5Z" />
<path d="M195.3 605.5L197.2 605.6L197.0 608.0L196.5 609.5L199.0 611.0L198.8 611.3L197.0 610.2L195.6 610.0L195.0 608.0Z" />
<path d="M197.0 617.0L198.5 615.4L200.5 614.3L201.5 616.5L200.5 618.2L199.0 617.5L198.0 616.5Z" />
<path d="M197.0 612.0L200.0 611.5L200.5 613.5L198.0 614.5L197.0 613.5Z" />
<path d="M192.2 615.5L194.5 612.7L194.3 613.7L192.5 615.7Z" />
<path d="M206.0 624.8L209.0 624.8L210.0 627.3L212.5 625.7L216.0 626.6L219.5 627.8L221.0 629.5L222.5 630.0L222.0 630.8L224.0 633.0L225.5 634.5L223.0 634.2L221.0 632.6L219.0 631.8L217.5 633.2L216.0 633.1L214.0 632.0L213.0 632.3L213.7 630.8L212.8 629.3L210.5 628.4L208.0 628.0L207.8 626.8L206.5 626.0Z" />
<path d="M223.3 629.6L225.0 629.2L227.0 628.2L227.3 629.0L225.5 630.2L224.0 630.2Z" />
<path d="M230.0 630.0L232.0 631.5L235.0 633.0L236.5 634.3L235.0 633.7L232.0 632.3Z" />
<path d="M239.0 644.2L241.5 645.8L242.0 646.4L240.0 645.5Z" />
<path d="M252.3 641.5L253.6 641.4L253.5 642.2L252.3 642.2Z" />
<path d="M241.6 638.8L242.3 639.5L243.3 641.5L242.5 640.3Z" />
<path d="M196.0 598.8L197.0 599.0L196.0 602.0L195.2 601.0Z" />
<path d="M183.7 604.7L185.5 604.0L186.0 604.4L185.0 605.7L183.7 605.5Z" />
<path d="M205.0 590.7L206.0 590.0L207.5 588.5L211.0 588.0L212.0 586.7L213.5 586.5L215.0 584.5L215.0 583.0L216.5 582.7L217.0 584.5L216.0 586.0L216.0 588.3L215.0 589.0L213.7 589.3L212.0 589.4L211.7 590.5L210.0 590.3L209.5 590.2L208.0 591.0L207.0 591.0L206.5 592.5L205.3 592.7L205.0 591.5Z" />
<path d="M215.0 582.5L215.3 581.0L216.7 578.6L218.0 579.7L220.3 580.5L219.0 581.0L218.2 582.0L216.3 581.5Z" />
<path d="M217.0 578.0L218.5 577.5L218.0 575.0L219.5 574.7L218.0 572.0L218.0 569.7L217.0 570.5L217.0 574.0L217.0 576.0Z" />
<path d="M126.5 553.0L128.5 553.3L132.0 552.0L133.0 550.5L137.0 548.8L143.0 547.5L143.5 547.0L139.0 547.5L133.0 548.5L130.0 550.5L127.0 552.0Z" />
<path d="M86.0 545.0L89.0 546.5L92.0 547.3L96.0 546.0L100.0 546.0L102.0 544.0L95.0 543.5L90.0 544.0Z" />
<path d="M122.0 543.8L130.0 544.0L137.0 543.3L135.0 542.5L125.0 543.0Z" />
<path d="M170.0 545.0L175.0 546.0L180.0 545.5L178.0 544.0L173.0 543.0Z" />
<path d="M212.0 549.0L217.0 550.3L220.0 549.0L225.0 548.8L223.0 548.0L215.0 548.0Z" />
<path d="M254.0 553.0L257.0 552.5L256.0 553.2Z" />
<path d="M411.0 558.5L413.0 557.7L417.0 557.7L420.5 558.0L421.5 559.0L420.0 559.7L416.0 560.6L412.5 560.0L411.0 559.2Z" />
<path d="M367.0 545.0L371.0 542.5L377.0 541.5L390.0 540.5L405.0 540.7L415.0 541.7L424.0 542.5L421.0 545.0L418.0 548.0L415.0 551.5L413.0 554.0L410.0 555.7L403.0 557.0L397.0 559.0L393.0 562.0L391.0 564.8L388.0 564.2L385.5 562.0L383.5 559.0L381.5 555.5L379.5 553.0L377.5 550.0L374.0 547.8L369.0 547.0Z" />
<path d="M267.0 558.4L269.5 557.5L273.0 557.8L271.0 556.0L269.0 555.0L273.0 553.7L278.5 552.7L285.0 553.7L294.0 554.3L299.0 555.0L306.0 553.8L310.0 554.5L318.0 555.2L320.0 556.2L327.0 556.0L329.0 557.2L333.0 555.8L337.0 556.2L339.5 555.0L341.0 552.5L344.0 554.0L347.0 556.0L350.0 554.5L353.0 555.0L353.5 556.5L355.0 558.0L358.0 560.0L361.0 561.7L365.0 563.0L365.5 565.2L368.0 565.5L370.5 563.7L373.5 567.0L377.0 570.0L379.2 571.5L378.5 573.5L375.0 573.8L369.0 573.8L368.0 575.2L370.5 575.5L370.5 577.5L374.0 578.5L373.0 580.0L369.5 580.2L368.0 579.0L365.0 580.0L364.5 582.0L361.0 583.2L360.5 584.5L359.0 587.0L359.5 588.7L357.0 590.2L354.0 592.0L353.7 593.5L354.7 597.0L354.8 598.8L353.3 598.0L352.2 595.5L351.0 594.0L348.0 593.7L345.5 594.8L341.5 594.5L338.0 596.2L337.3 599.0L337.3 602.0L339.0 605.0L340.5 605.5L344.0 605.2L344.5 603.0L347.5 602.5L348.0 605.5L346.5 608.0L351.0 608.2L351.7 611.5L351.2 613.0L352.5 614.5L355.0 614.7L357.5 615.5L355.3 616.7L353.5 615.7L352.0 615.7L349.5 614.0L347.5 611.0L343.0 610.0L341.0 608.0L337.0 607.7L333.0 605.5L329.5 604.0L329.5 601.5L326.5 598.5L323.0 595.5L322.0 592.7L320.2 592.7L320.5 594.5L322.7 597.0L325.5 601.0L325.0 601.0L321.5 597.0L320.0 594.5L318.0 591.5L314.5 589.5L313.0 587.0L311.0 584.5L310.8 581.0L311.0 577.8L310.5 575.7L312.5 575.0L310.0 574.0L307.0 571.5L305.0 569.3L303.0 567.0L299.0 565.5L295.5 564.2L290.0 563.8L286.0 563.0L283.5 564.5L281.0 565.0L278.5 566.5L274.0 568.5L271.0 569.2L274.5 567.3L277.0 565.3L273.0 565.0L270.0 563.5L269.0 561.5L271.0 560.5L274.0 559.5L269.0 559.3Z" />
<path d="M313.0 554.0L311.0 551.0L315.0 548.0L325.0 546.5L337.0 545.0L347.0 541.5L365.0 541.0L375.0 542.0L367.0 544.0L361.0 547.0L358.0 550.0L365.0 551.5L368.0 554.0L371.0 557.0L369.0 560.5L364.0 561.0L360.0 559.0L356.0 556.0L350.0 554.5L343.0 555.0L337.0 556.0Z" />
<path d="M355.0 550.5L360.0 550.3L366.0 552.0L370.0 554.5L373.0 557.0L371.0 558.0L369.0 561.0L366.5 561.5L363.0 560.0L359.0 559.5L357.0 557.5L354.0 555.5L350.0 554.0L347.0 551.5L350.0 550.5Z" />
<path d="M318.0 552.5L323.0 551.0L330.0 550.8L333.0 552.5L329.5 555.0L324.0 555.2L319.0 554.0Z" />
<path d="M309.0 552.0L312.0 549.7L318.0 550.0L319.0 551.7L313.0 553.0Z" />
<path d="M345.0 547.5L350.0 545.0L345.0 543.0L355.0 541.0L370.0 541.3L373.0 542.5L365.0 544.0L360.0 546.0L355.0 547.7Z" />
<path d="M340.0 549.0L345.0 548.0L355.0 548.5L354.0 549.5L343.0 549.7Z" />
<path d="M318.0 548.7L325.0 547.5L330.0 547.7L330.0 549.0L322.0 549.5Z" />
<path d="M335.0 552.0L338.0 550.2L341.0 550.5L340.0 552.5L336.0 552.8Z" />
<path d="M338.0 545.5L343.0 543.5L347.0 544.5L343.0 546.0Z" />
<path d="M348.0 560.0L351.0 558.5L354.0 560.0L351.0 561.2Z" />
<path d="M375.5 576.3L376.0 572.7L379.0 572.5L379.5 574.5L382.2 576.5L381.0 577.3L378.0 576.5Z" />
<path d="M350.0 602.0L352.5 600.8L355.0 601.0L358.0 602.5L360.8 603.8L358.0 604.1L356.5 603.3L354.0 602.4L352.0 601.8Z" />
<path d="M360.5 604.2L363.0 604.2L366.5 605.4L364.0 605.8L361.0 605.8Z" />
<path d="M356.7 605.6L358.7 605.7L358.5 606.2L356.8 606.0Z" />
<path d="M367.8 605.5L369.3 605.6L369.2 606.0L367.8 606.0Z" />
<path d="M357.5 615.5L359.5 613.2L363.0 611.7L363.5 613.0L365.0 612.5L369.0 613.3L373.0 613.4L375.0 615.5L378.0 618.0L381.0 618.2L383.5 619.5L385.0 622.5L385.0 624.0L387.0 624.5L390.5 626.3L395.0 627.0L398.0 629.0L400.0 631.0L399.8 633.0L397.5 636.0L396.0 637.0L396.0 640.0L395.5 643.0L393.0 647.0L390.0 647.2L387.0 649.0L386.5 652.0L383.5 656.0L381.0 658.5L378.0 658.7L378.5 660.5L377.0 662.5L373.0 663.0L372.5 665.0L370.0 665.0L371.0 666.8L369.5 669.0L367.5 670.5L369.0 672.0L366.0 674.5L366.0 676.3L367.5 677.0L370.0 678.8L367.0 679.5L363.5 677.8L360.5 676.0L359.5 672.0L361.0 669.0L361.0 666.0L361.3 663.5L361.5 661.0L363.0 657.0L363.5 654.0L364.5 649.0L364.8 644.0L363.8 641.5L360.0 640.0L358.5 637.5L356.0 632.5L353.8 630.0L354.0 628.0L355.0 626.3L354.5 624.0L356.3 622.5L357.5 620.0L357.5 617.0L355.3 616.7Z" />
<path d="M374.0 675.3L377.0 675.4L376.5 676.2L374.0 676.0Z" />
<path d="M188.5 646.0L189.0 650.0L190.0 654.0L190.0 657.5L191.0 659.0L193.5 659.0L198.5 658.0L201.0 656.3L204.0 655.7L206.5 655.5L209.0 657.0L210.5 659.0L212.5 657.0L213.0 659.5L214.5 660.0L215.5 662.0L218.5 662.8L221.5 663.0L223.0 661.8L225.0 661.2L226.0 658.0L228.0 655.0L228.5 652.0L228.0 649.0L226.0 647.5L224.5 646.0L222.0 643.3L221.0 642.5L220.5 639.0L218.5 638.0L217.5 634.8L216.5 637.0L216.0 640.0L214.5 641.5L212.0 639.8L210.5 639.0L211.8 636.2L208.0 635.5L205.5 635.5L205.0 637.5L204.0 639.0L201.0 638.0L198.5 641.0L197.0 642.0L196.0 643.5L192.0 644.7L189.5 645.7Z" />
<path d="M219.7 664.8L223.2 664.9L223.2 666.0L222.5 667.3L221.0 667.5L220.2 666.2Z" />
<path d="M247.7 658.5L249.5 660.3L250.8 660.8L251.0 661.6L253.3 661.7L252.8 663.2L252.0 663.5L251.0 665.3L249.8 665.3L250.0 664.0L248.8 663.3L249.8 662.0L249.5 660.8Z" />
<path d="M247.7 664.5L249.2 665.5L248.0 667.0L247.8 667.8L246.2 668.3L245.8 669.8L244.0 670.6L242.5 670.2L241.5 669.8L243.3 668.0L245.5 667.0L246.5 665.8Z" />
<path d="M143.7 673.0L145.5 673.2L145.0 673.7L143.8 673.6Z" />
<path d="M73.0 694.0L75.0 694.0L85.0 694.0L95.0 694.0L102.0 694.0L108.0 692.7L115.0 693.0L120.0 691.7L125.0 690.5L130.0 690.0L135.0 691.3L143.0 691.8L145.0 692.8L149.0 693.8L153.0 692.3L157.0 690.7L163.0 690.5L170.0 690.3L175.0 689.8L180.0 690.3L185.0 690.0L190.0 690.5L195.0 690.8L202.0 690.3L210.0 690.0L215.0 690.7L220.0 691.0L225.0 692.3L230.0 693.0L235.0 694.0L238.0 694.5L242.0 695.0L245.3 695.6L244.0 697.0L241.0 699.0L238.5 700.0L239.0 701.6L242.0 701.9L250.0 702.0L260.0 702.2L270.0 702.5L277.0 702.3L280.0 701.0L287.0 700.5L293.0 699.5L300.0 698.5L308.0 698.3L315.0 698.0L323.0 698.2L330.0 697.0L333.0 696.5L337.0 697.0L342.0 696.7L347.0 697.0L355.0 697.2L360.0 697.0L365.0 696.0L367.0 694.0L368.5 692.0L370.0 690.5L372.0 689.0L374.0 688.0L377.5 687.3L378.0 688.0L375.0 689.5L373.0 692.0L372.0 694.0L373.0 696.0L374.0 698.0L378.0 699.5L385.0 701.5L393.0 702.0L400.0 702.0L405.0 701.0L410.0 699.5L415.0 697.5L420.0 696.0L425.0 695.0L430.0 694.5L437.0 694.0L437.0 715.0L73.0 715.0Z" />
<path d="M345.0 564.5L351.0 564.0L356.0 565.0L358.0 567.0L356.5 569.5L354.0 569.5L351.0 568.0L346.0 566.5Z" fill="#fff" stroke="none"/>
<path d="M338.0 597.0L341.0 595.0L345.0 595.5L346.5 599.0L345.0 602.5L341.0 604.5L338.5 602.5Z" fill="#fff" stroke="none"/>
</g>
<g stroke="#000" stroke-width="1" stroke-dasharray="1 3" shape-rendering="crispEdges" fill="none">
<path d="M105.5 536V714"/>
<path d="M135.5 536V714"/>
<path d="M165.5 536V714"/>
<path d="M195.5 536V714"/>
<path d="M225.5 536V714"/>
<path d="M255.5 536V714"/>
<path d="M285.5 536V714"/>
<path d="M315.5 536V714"/>
<path d="M345.5 536V714"/>
<path d="M375.5 536V714"/>
<path d="M405.5 536V714"/>
<path d="M77 564.5H425"/>
<path d="M77 594.5H425"/>
<path d="M77 624.5H425"/>
<path d="M77 654.5H425"/>
<path d="M77 684.5H425"/>
</g>
<path d="M236.5 671.8L224.0 696.0L249.0 696.0Z" fill="#c00000"/>
<g shape-rendering="crispEdges">
<rect x="72.5" y="531.5" width="356" height="186" fill="none" stroke="#000"/>
<rect x="75.5" y="534.5" width="350" height="180" fill="none" stroke="#000"/>
<rect x="105" y="531" width="31" height="4"/><rect x="105" y="714" width="31" height="4"/>
<rect x="165" y="531" width="31" height="4"/><rect x="165" y="714" width="31" height="4"/>
<rect x="225" y="531" width="61" height="4"/><rect x="225" y="714" width="61" height="4"/>
<rect x="315" y="531" width="31" height="4"/><rect x="315" y="714" width="31" height="4"/>
<rect x="375" y="531" width="31" height="4"/><rect x="375" y="714" width="31" height="4"/>
<rect x="72" y="534" width="4" height="31"/><rect x="425" y="534" width="4" height="31"/>
<rect x="72" y="594" width="4" height="31"/><rect x="425" y="594" width="4" height="31"/>
<rect x="72" y="654" width="4" height="31"/><rect x="425" y="654" width="4" height="31"/>
</g>
<g style="font-family:'DejaVu Sans','Liberation Sans',sans-serif;font-weight:200;stroke:#000;stroke-width:.38px" font-size="12" text-anchor="middle" fill="#000">
<text x="105.5" y="529.5" textLength="14" lengthAdjust="spacing">30</text><text x="105.5" y="727.8" textLength="14" lengthAdjust="spacing">30</text>
<text x="135.5" y="529.5" textLength="14" lengthAdjust="spacing">60</text><text x="135.5" y="727.8" textLength="14" lengthAdjust="spacing">60</text>
<text x="165.5" y="529.5" textLength="14" lengthAdjust="spacing">90</text><text x="165.5" y="727.8" textLength="14" lengthAdjust="spacing">90</text>
<text x="195.5" y="529.5" textLength="21" lengthAdjust="spacing">120</text><text x="195.5" y="727.8" textLength="21" lengthAdjust="spacing">120</text>
<text x="225.5" y="529.5" textLength="21" lengthAdjust="spacing">150</text><text x="225.5" y="727.8" textLength="21" lengthAdjust="spacing">150</text>
<text x="255.5" y="529.5" textLength="21" lengthAdjust="spacing">180</text><text x="255.5" y="727.8" textLength="21" lengthAdjust="spacing">180</text>
<text x="285.5" y="529.5" textLength="31" lengthAdjust="spacing">−150</text><text x="285.5" y="727.8" textLength="31" lengthAdjust="spacing">−150</text>
<text x="315.5" y="529.5" textLength="31" lengthAdjust="spacing">−120</text><text x="315.5" y="727.8" textLength="31" lengthAdjust="spacing">−120</text>
<text x="345.5" y="529.5" textLength="24" lengthAdjust="spacing">−90</text><text x="345.5" y="727.8" textLength="24" lengthAdjust="spacing">−90</text>
<text x="375.5" y="529.5" textLength="24" lengthAdjust="spacing">−60</text><text x="375.5" y="727.8" textLength="24" lengthAdjust="spacing">−60</text>
<text x="405.5" y="529.5" textLength="24" lengthAdjust="spacing">−30</text><text x="405.5" y="727.8" textLength="24" lengthAdjust="spacing">−30</text>
<text transform="translate(70.5 564.5) rotate(-90)">60</text>
<text transform="translate(431 564.5) rotate(90)">60</text>
<text transform="translate(70.5 594.5) rotate(-90)">30</text>
<text transform="translate(431 594.5) rotate(90)">30</text>
<text transform="translate(70.5 624.5) rotate(-90)">0</text>
<text transform="translate(431 624.5) rotate(90)">0</text>
<text transform="translate(70.5 654.5) rotate(-90)">−30</text>
<text transform="translate(431 654.5) rotate(90)">−30</text>
<text transform="translate(70.5 684.5) rotate(-90)">−60</text>
<text transform="translate(431 684.5) rotate(90)">−60</text>
</g>
<g style="font-family:'Liberation Sans',sans-serif;font-weight:bold;white-space:pre;stroke:#000;stroke-width:.6px" font-size="15.5">
<text x="70.3" y="764" textLength="128.8" lengthAdjust="spacingAndGlyphs">2025/09/19 13:49</text>
<text x="70.3" y="793.7" textLength="244.8" lengthAdjust="spacingAndGlyphs">Scene center LAT:-59   LON: 161</text>
<text x="70.3" y="823.4" textLength="132.3" lengthAdjust="spacingAndGlyphs">DeltaT:  215 (sec)</text>
</g>
<g shape-rendering="crispEdges" stroke="#000" fill="none">
<rect x="70.5" y="849.5" width="360" height="120"/>
<path d="M142.5 849.5V969.5M214.5 849.5V969.5M286.5 849.5V969.5M358.5 849.5V969.5M70.5 889.5H430.5M70.5 929.5H430.5"/>
</g>
<g style="font-family:'Liberation Sans',sans-serif;font-weight:bold;stroke:#000;stroke-width:.6px" font-size="16" text-anchor="middle">
<text x="178.5" y="879.5">Bias</text>
<text x="250.5" y="879.5">Cor</text>
<text x="322.5" y="879.5">RMSE</text>
<text x="394.5" y="879.5">N</text>
<text x="106.5" y="919.5">Ocean</text>
<text x="178.5" y="919.5">0.09</text>
<text x="250.5" y="919.5">0.63</text>
<text x="322.5" y="919.5">0.29</text>
<text x="394.5" y="919.5">29</text>
<text x="106.5" y="959.5">Land</text>
<text x="178.5" y="958.5">***</text>
<text x="250.5" y="958.5">***</text>
<text x="322.5" y="958.5">***</text>
<text x="394.5" y="959.5">0</text>
</g>
<g stroke="#000" stroke-width="1" fill="none" shape-rendering="crispEdges">
<rect x="535.5" y="534.5" width="395.0" height="395.0"/>
<path d="M579.5 929.5v-2.6M579.5 534.5v2.6M535.5 885.5h2.6M930.5 885.5h-2.6M600.5 929.5v-2.6M600.5 534.5v2.6M535.5 864.5h2.6M930.5 864.5h-2.6M615.5 929.5v-2.6M615.5 534.5v2.6M535.5 849.5h2.6M930.5 849.5h-2.6M625.5 929.5v-2.6M625.5 534.5v2.6M535.5 839.5h2.6M930.5 839.5h-2.6M634.5 929.5v-4.6M634.5 534.5v4.6M535.5 830.5h4.6M930.5 830.5h-4.6M678.5 929.5v-2.6M678.5 534.5v2.6M535.5 786.5h2.6M930.5 786.5h-2.6M699.5 929.5v-2.6M699.5 534.5v2.6M535.5 765.5h2.6M930.5 765.5h-2.6M713.5 929.5v-2.6M713.5 534.5v2.6M535.5 751.5h2.6M930.5 751.5h-2.6M724.5 929.5v-2.6M724.5 534.5v2.6M535.5 740.5h2.6M930.5 740.5h-2.6M732.5 929.5v-4.6M732.5 534.5v4.6M535.5 732.5h4.6M930.5 732.5h-4.6M777.5 929.5v-2.6M777.5 534.5v2.6M535.5 687.5h2.6M930.5 687.5h-2.6M798.5 929.5v-2.6M798.5 534.5v2.6M535.5 666.5h2.6M930.5 666.5h-2.6M812.5 929.5v-2.6M812.5 534.5v2.6M535.5 652.5h2.6M930.5 652.5h-2.6M823.5 929.5v-2.6M823.5 534.5v2.6M535.5 641.5h2.6M930.5 641.5h-2.6M831.5 929.5v-4.6M831.5 534.5v4.6M535.5 633.5h4.6M930.5 633.5h-4.6M875.5 929.5v-2.6M875.5 534.5v2.6M535.5 589.5h2.6M930.5 589.5h-2.6M897.5 929.5v-2.6M897.5 534.5v2.6M535.5 567.5h2.6M930.5 567.5h-2.6M911.5 929.5v-2.6M911.5 534.5v2.6M535.5 553.5h2.6M930.5 553.5h-2.6M921.5 929.5v-2.6M921.5 534.5v2.6M535.5 543.5h2.6M930.5 543.5h-2.6"/>
</g>
<path d="M535.5 929.5L930.5 534.5" stroke="#000" stroke-width="1.25" fill="none"/>
<g style="font-family:'DejaVu Sans','Liberation Sans',sans-serif;font-weight:200;stroke:#000;stroke-width:.22px" font-size="19.5" fill="#000">
<text x="535.0" y="957" text-anchor="middle" textLength="39" lengthAdjust="spacing">0.01</text>
<text x="527" y="929.5" text-anchor="end" textLength="39" lengthAdjust="spacing">0.01</text>
<text x="633.75" y="957" text-anchor="middle" textLength="41" lengthAdjust="spacing">0.10</text>
<text x="527" y="838.5" text-anchor="end" textLength="41" lengthAdjust="spacing">0.10</text>
<text x="732.5" y="957" text-anchor="middle" textLength="39" lengthAdjust="spacing">1.00</text>
<text x="527" y="739.7" text-anchor="end" textLength="39" lengthAdjust="spacing">1.00</text>
<text x="831.25" y="957" text-anchor="middle" textLength="52.5" lengthAdjust="spacing">10.00</text>
<text x="527" y="641.0" text-anchor="end" textLength="52.5" lengthAdjust="spacing">10.00</text>
<text x="930.0" y="957" text-anchor="middle" textLength="65.5" lengthAdjust="spacing">100.00</text>
<text x="527" y="548.0" text-anchor="end" textLength="65.5" lengthAdjust="spacing">100.00</text>
<text y="979.5"><tspan x="602" textLength="37.5" lengthAdjust="spacing">DPR</tspan> <tspan x="652" textLength="119.5" lengthAdjust="spacing">Precipitation</tspan> <tspan x="785" textLength="79" lengthAdjust="spacing">(mm/h)</tspan></text>
<text transform="translate(443 877) rotate(-90) scale(1 1.07)" y="0"><tspan x="0" textLength="63.5" lengthAdjust="spacing">AMSR2</tspan> <tspan x="78" textLength="116" lengthAdjust="spacing">Precipitation</tspan> <tspan x="211" textLength="80.5" lengthAdjust="spacing">(mm/h)</tspan></text>
</g>
<path d="M548.7 543.9000000000001L561.3 556.5M548.7 556.5L561.3 543.9000000000001" stroke="#0040ff" stroke-width="2.3" fill="none"/>
<path d="M548.7 564.1L561.3 576.6999999999999M548.7 576.6999999999999L561.3 564.1" stroke="#c00000" stroke-width="2.3" fill="none"/>
<g style="font-family:'DejaVu Sans','Liberation Sans',sans-serif;font-weight:200;stroke:#000;stroke-width:.38px" font-size="12.5">
 <text x="575.5" y="552" textLength="50" lengthAdjust="spacing">: Ocean</text>
 <text x="575.5" y="572" textLength="42" lengthAdjust="spacing">: Land</text></g>
<clipPath id="cs"><rect x="535" y="534" width="396" height="400"/></clipPath><g clip-path="url(#cs)">
<path d="M703.5 715.7L711.5 723.7M703.5 723.7L711.5 715.7" stroke="#2050ff" stroke-width="1.3" fill="none"/>
<path d="M700.6 726.5L708.6 734.5M700.6 734.5L708.6 726.5" stroke="#2050ff" stroke-width="1.3" fill="none"/>
<path d="M669.4 736.3L677.4 744.3M669.4 744.3L677.4 736.3" stroke="#2050ff" stroke-width="1.3" fill="none"/>
<path d="M634.4 746.4L642.4 754.4M634.4 754.4L642.4 746.4" stroke="#2050ff" stroke-width="1.3" fill="none"/>
<path d="M680.4 746.4L688.4 754.4M680.4 754.4L688.4 746.4" stroke="#2050ff" stroke-width="1.3" fill="none"/>
<path d="M700.6 749.3L708.6 757.3M700.6 757.3L708.6 749.3" stroke="#2050ff" stroke-width="1.3" fill="none"/>
<path d="M688.6 756.5L696.6 764.5M688.6 764.5L696.6 756.5" stroke="#2050ff" stroke-width="1.3" fill="none"/>
<path d="M590.5 760.3L598.5 768.3M590.5 768.3L598.5 760.3" stroke="#2050ff" stroke-width="1.3" fill="none"/>
<path d="M711.6 763.4L719.6 771.4M711.6 771.4L719.6 763.4" stroke="#2050ff" stroke-width="1.3" fill="none"/>
<path d="M600.3 775.2L608.3 783.2M600.3 783.2L608.3 775.2" stroke="#2050ff" stroke-width="1.3" fill="none"/>
<path d="M625.3 775.2L633.3 783.2M625.3 783.2L633.3 775.2" stroke="#2050ff" stroke-width="1.3" fill="none"/>
<path d="M723.6 778.8L731.6 786.8M723.6 786.8L731.6 778.8" stroke="#2050ff" stroke-width="1.3" fill="none"/>
<path d="M641.6 812.8L649.6 820.8M641.6 820.8L649.6 812.8" stroke="#2050ff" stroke-width="1.3" fill="none"/>
<path d="M561.4 866.6L569.4 874.6M561.4 874.6L569.4 866.6" stroke="#2050ff" stroke-width="1.3" fill="none"/>
<path d="M640.8 895.1L648.8 903.1M640.8 903.1L648.8 895.1" stroke="#2050ff" stroke-width="1.3" fill="none"/>
<path d="M650.2 895.1L658.2 903.1M650.2 903.1L658.2 895.1" stroke="#2050ff" stroke-width="1.3" fill="none"/>
<path d="M644.2 925.1L652.2 933.1M644.2 933.1L652.2 925.1" stroke="#2050ff" stroke-width="1.3" fill="none"/>
</g>
</g></svg></body></html>
